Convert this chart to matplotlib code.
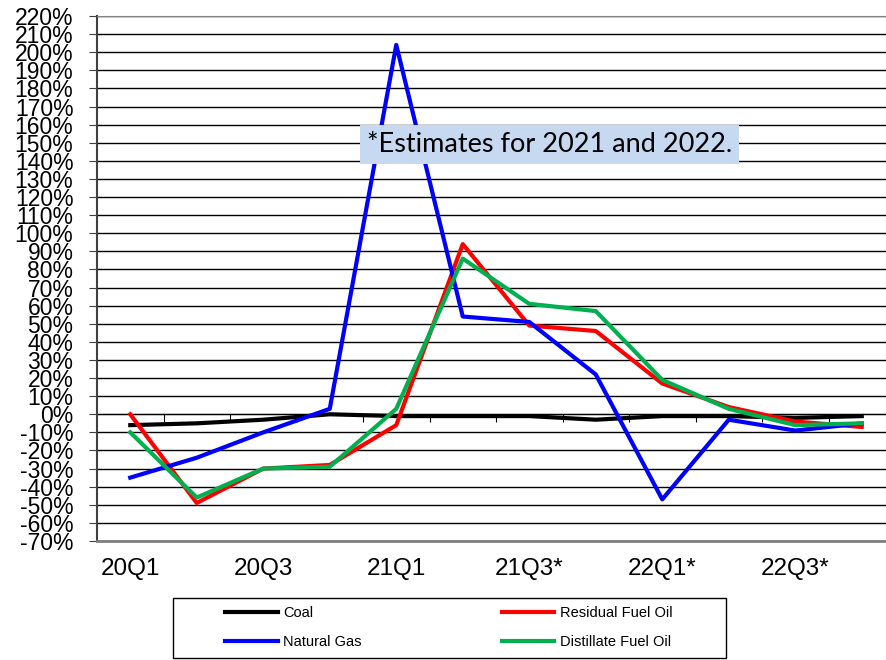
import matplotlib
matplotlib.use("Agg")
import matplotlib.pyplot as plt
import numpy as np
from matplotlib.patches import Rectangle

quarters = ["20Q1", "20Q2", "20Q3", "20Q4", "21Q1", "21Q2",
            "21Q3*", "21Q4*", "22Q1*", "22Q2*", "22Q3*", "22Q4*"]
coal = [-6, -5, -3, 0, -1, -1, -1, -3, -1, -1, -2, -1]
residual = [0, -49, -30, -28, -6, 94, 49, 46, 17, 4, -4, -7]
natural_gas = [-35, -24, -10, 3, 204, 54, 51, 22, -47, -3, -9, -5]
distillate = [-10, -46, -30, -29, 3, 86, 61, 57, 19, 3, -6, -5]
y_ticks = list(range(-70, 221, 10))

plt.rcParams['font.family'] = ['Liberation Sans', 'DejaVu Sans']

fig = plt.figure(figsize=(8.86, 6.60), dpi=100)
ax = fig.add_axes([97/886, 119/660, 798/886, 525/660])

x = np.arange(len(quarters))
l_coal, = ax.plot(x, coal, color='black', lw=3, label='Coal', zorder=3)
l_res, = ax.plot(x, residual, color='#ff0000', lw=3, label='Residual Fuel Oil', zorder=3)
l_gas, = ax.plot(x, natural_gas, color='#0000ff', lw=3, label='Natural Gas', zorder=3)
l_dist, = ax.plot(x, distillate, color='#00b050', lw=3, label='Distillate Fuel Oil', zorder=3)

ax.set_xlim(-0.5, len(quarters) - 0.5)
ax.set_ylim(-70, 220)
ax.set_yticks(y_ticks)
ax.set_yticklabels([f"{v}%" for v in y_ticks], fontsize=16.5)
ax.yaxis.grid(True, color='black', lw=1)
ax.set_axisbelow(True)
ax.tick_params(axis='y', length=6, pad=11, color='#404040')

ax.set_xticks(x[::2])
ax.set_xticklabels(quarters[::2], fontsize=17.5)
ax.tick_params(axis='x', length=0, pad=12)

for s in ['top', 'right']:
    ax.spines[s].set_color('#808080')
ax.spines['bottom'].set_color('#808080')
ax.spines['bottom'].set_linewidth(2)
ax.spines['left'].set_color('#404040')
ax.spines['left'].set_linewidth(1.5)

# category boundary ticks on the zero line
zero_ax = ax.secondary_xaxis(70 / 290)
zero_ax.set_xticks(np.arange(0.5, len(quarters) - 0.5, 1))
zero_ax.set_xticklabels([])
zero_ax.tick_params(axis='x', direction='out', length=6, color='black')
zero_ax.spines['bottom'].set_color('black')

ax.text(3.56, 149, "*Estimates for 2021 and 2022.", fontsize=19.5, family=['Lato', 'DejaVu Sans'],
        ha='left', va='center', zorder=5,
        bbox=dict(boxstyle='square,pad=0.25', facecolor='#c6d9f1', edgecolor='none'))

# legend box
fig.patches.append(Rectangle((173/886, 2/660), 553/886, 60/660, transform=fig.transFigure,
                             facecolor='white', edgecolor='black', lw=1))
fig.legend([l_coal, l_gas, l_res, l_dist],
           ['Coal', 'Natural Gas', 'Residual Fuel Oil', 'Distillate Fuel Oil'],
           ncol=2, frameon=False, fontsize=10.5, handlelength=3.6, handletextpad=0.4,
           columnspacing=9.6, labelspacing=1.0, borderpad=0, borderaxespad=0,
           loc='center left', bbox_to_anchor=(225/886, 32.5/660))

plt.savefig("out.png", dpi=100)
